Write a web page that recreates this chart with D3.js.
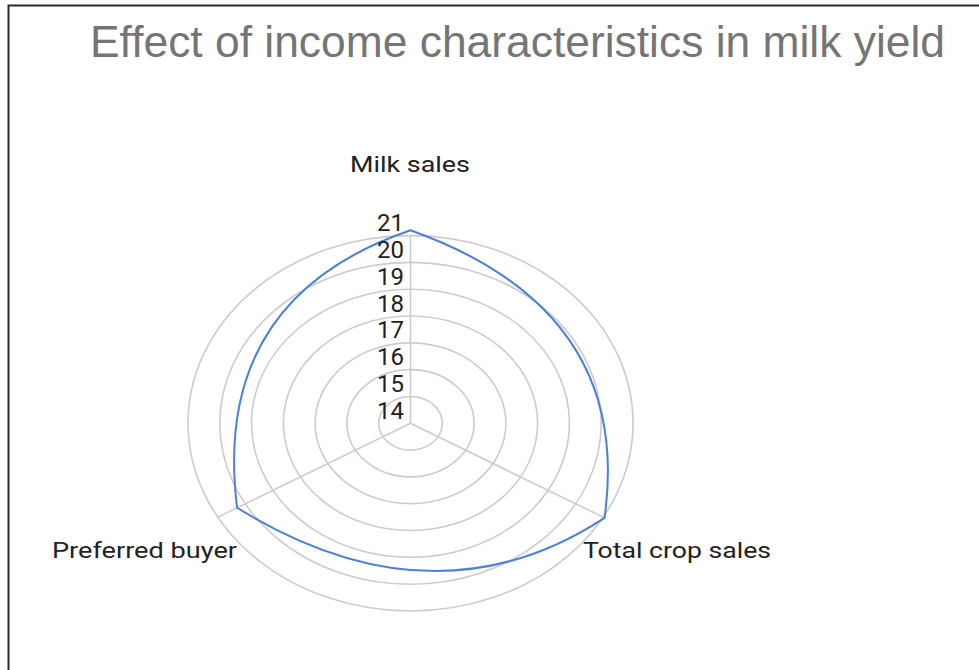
<!DOCTYPE html>
<html>
<head>
<meta charset="utf-8">
<script src="https://cdn.jsdelivr.net/npm/d3@7"></script>
<style>
  html, body { margin: 0; padding: 0; background: #fff; }
  svg { display: block; }
</style>
</head>
<body>
<svg id="chart" width="979" height="670"></svg>
<script>
// ---- data ----
const title = "Effect of income characteristics in milk yield";
const categories = ["Milk sales", "Total crop sales", "Preferred buyer"];
const values = [21.2, 21.05, 20.3];
const tickValues = [14, 15, 16, 17, 18, 19, 20, 21];

// ---- layout ----
const W = 979, H = 670;
const cx = 410.5, cy = 423.3;
const RX = 222.5, RY = 187.7;   // reference image is horizontally stretched

const svg = d3.select("#chart");

// frame
svg.append("rect")
  .attr("x", 8.5).attr("y", 5.5)
  .attr("width", 1000).attr("height", 700)
  .attr("fill", "#fff").attr("stroke", "#2b2b2b").attr("stroke-width", 2);

const r = d3.scaleLinear().domain([14, 21]).range([0, 1]);
const ang = d3.scaleLinear().domain([0, categories.length]).range([0, 2 * Math.PI]);

const px = (v, i) => cx + RX * r(v) * Math.sin(ang(i));
const py = (v, i) => cy - RY * r(v) * Math.cos(ang(i));

function fit(sel, w) {
  sel.attr("textLength", w).attr("lengthAdjust", "spacingAndGlyphs");
}

// title
svg.append("text")
  .attr("x", 90).attr("y", 57)
  .attr("font-family", "'Liberation Sans', Arial, sans-serif")
  .attr("font-size", 45)
  .attr("fill", "#757575")
  .text(title)
  .call(fit, 855);

// rings
const grid = svg.append("g");
grid.selectAll("ellipse")
  .data(tickValues.filter(t => t > 14))
  .join("ellipse")
  .attr("cx", cx).attr("cy", cy)
  .attr("rx", d => RX * r(d))
  .attr("ry", d => RY * r(d))
  .attr("fill", "none")
  .attr("stroke", "#cccccc")
  .attr("stroke-width", 1.6);

// spokes
grid.selectAll("line")
  .data(categories)
  .join("line")
  .attr("x1", cx).attr("y1", cy)
  .attr("x2", (d, i) => px(21, i))
  .attr("y2", (d, i) => py(21, i))
  .attr("stroke", "#cccccc")
  .attr("stroke-width", 1.6);

// bulging edge curve (quadratic between vertices, control pushed outward from centre)
function bulgeCurve(ox, oy, lambda) {
  return function(context) {
    let pts = [];
    return {
      areaStart() {}, areaEnd() {},
      lineStart() { pts = []; },
      point(x, y) { pts.push([+x, +y]); },
      lineEnd() {
        const n = pts.length;
        if (!n) return;
        context.moveTo(pts[0][0], pts[0][1]);
        for (let i = 0; i < n; i++) {
          const a = pts[i], b = pts[(i + 1) % n];
          const mx = (a[0] + b[0]) / 2, my = (a[1] + b[1]) / 2;
          context.quadraticCurveTo(ox + lambda * (mx - ox), oy + lambda * (my - oy), b[0], b[1]);
        }
        context.closePath();
      }
    };
  };
}

const line = d3.line()
  .x((d, i) => px(d, i))
  .y((d, i) => py(d, i))
  .curve(bulgeCurve(cx, cy, 2.3));

svg.append("path")
  .datum(values)
  .attr("d", line)
  .attr("fill", "none")
  .attr("stroke", "#4a7fe0")
  .attr("stroke-width", 2)
  .attr("stroke-linejoin", "miter");

// tick labels
svg.append("g").selectAll("text")
  .data(tickValues)
  .join("text")
  .attr("x", 404)
  .attr("y", d => cy - RY * r(d) - 4.5)
  .attr("text-anchor", "end")
  .attr("font-family", "Roboto, sans-serif")
  .attr("font-size", 23)
  .attr("fill", "#222")
  .text(d => d)
  .call(fit, 27);

// category labels
const catPos = [
  { x: 350, y: 172, w: 120 },
  { x: 583, y: 558, w: 188 },
  { x: 52,  y: 558, w: 185 }
];
svg.append("g").selectAll("text")
  .data(categories)
  .join("text")
  .attr("x", (d, i) => catPos[i].x)
  .attr("y", (d, i) => catPos[i].y)
  .attr("font-family", "Roboto, sans-serif")
  .attr("font-size", 22)
  .attr("fill", "#222")
  .text(d => d)
  .each(function(d, i) { d3.select(this).call(fit, catPos[i].w); });
</script>
</body>
</html>
